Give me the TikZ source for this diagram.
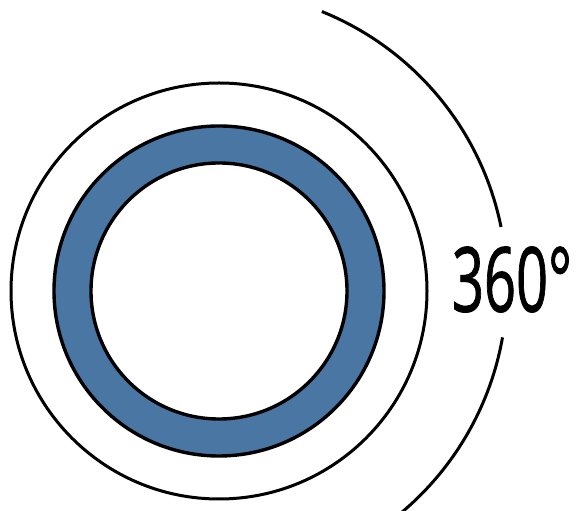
\documentclass[tikz,border=0pt]{standalone}
\usepackage{graphicx}
\usepackage{fontspec}
\usetikzlibrary{calc}
\newfontfamily\labelfont[FakeBold=1.2]{Open Sans}
\definecolor{ringblue}{RGB}{74,118,164}
\tikzset{
  line/.style={draw=black, line width=3pt},
  ringline/.style={draw=black, line width=3.4pt},
}
\begin{document}
\begin{tikzpicture}[x=1pt,y=1pt]
\useasboundingbox (0,0) rectangle (576,511);
\clip (0,0) rectangle (576,511);
\coordinate (c) at (219,220);
\coordinate (ac) at (211,225);
% blue ring
\fill[ringblue, even odd rule] (c) circle (165) (c) circle (128);
\draw[ringline] (c) circle (165);
\draw[ringline] (c) circle (128);
% outer circle
\draw[line] (c) circle (208);
% large arc, split around the label
\draw[line] ($(ac)+(68:296)$) arc (68:11.5:296);
\draw[line] ($(ac)+(-10:296)$) arc (-10:-52:296);
% label
\node[inner sep=0pt, anchor=center] (lbl) at (512,231.5)
  {\resizebox{120pt}{65pt}{\labelfont 360°}};
\end{tikzpicture}
\end{document}
